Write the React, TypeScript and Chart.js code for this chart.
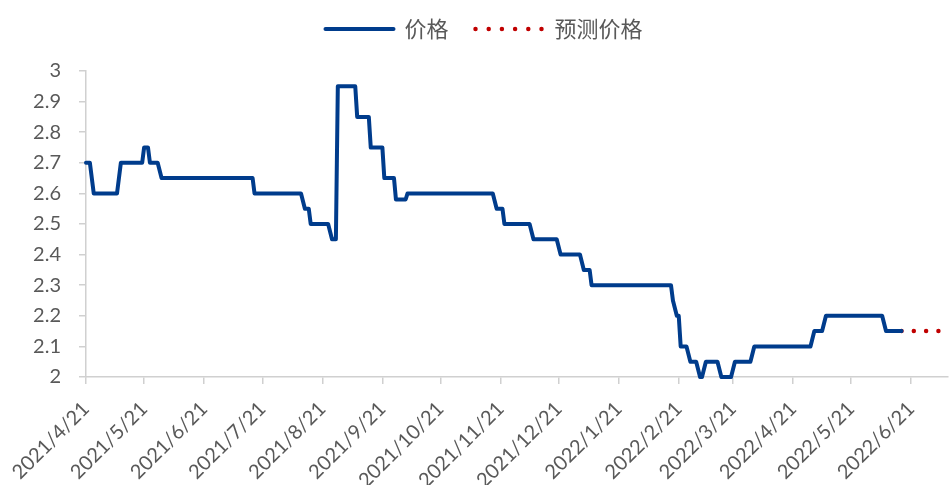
import React, { useEffect, useRef } from 'react';
import { Chart, registerables } from 'chart.js';

Chart.register(...registerables);

// ---- data ----
const PRICE_DATES = [
  '2021-04-21', '2021-04-23', '2021-04-25', '2021-05-07', '2021-05-09', '2021-05-20',
  '2021-05-21', '2021-05-23', '2021-05-24', '2021-05-28', '2021-05-30', '2021-07-16',
  '2021-07-17', '2021-08-10', '2021-08-12', '2021-08-14', '2021-08-15', '2021-08-24',
  '2021-08-26', '2021-08-28', '2021-08-29', '2021-09-07', '2021-09-08', '2021-09-14',
  '2021-09-15', '2021-09-21', '2021-09-22', '2021-09-27', '2021-09-28', '2021-10-03',
  '2021-10-04', '2021-11-17', '2021-11-19', '2021-11-22', '2021-11-23', '2021-12-06',
  '2021-12-08', '2021-12-20', '2021-12-22', '2022-01-01', '2022-01-03', '2022-01-06',
  '2022-01-07', '2022-02-17', '2022-02-18', '2022-02-20', '2022-02-21', '2022-02-22',
  '2022-02-25', '2022-02-27', '2022-03-02', '2022-03-04', '2022-03-05', '2022-03-07',
  '2022-03-13', '2022-03-15', '2022-03-20', '2022-03-22', '2022-03-30', '2022-04-01',
  '2022-04-30', '2022-05-02', '2022-05-06', '2022-05-08', '2022-06-06', '2022-06-08',
  '2022-06-16',
];
const PRICE_VALUES = [
  2.7, 2.7, 2.6, 2.6, 2.7, 2.7,
  2.75, 2.75, 2.7, 2.7, 2.65, 2.65,
  2.6, 2.6, 2.55, 2.55, 2.5, 2.5,
  2.45, 2.45, 2.95, 2.95, 2.85, 2.85,
  2.75, 2.75, 2.65, 2.65, 2.58, 2.58,
  2.6, 2.6, 2.55, 2.55, 2.5, 2.5,
  2.45, 2.45, 2.4, 2.4, 2.35, 2.35,
  2.3, 2.3, 2.25, 2.2, 2.2, 2.1,
  2.1, 2.05, 2.05, 2.0, 2.0, 2.05,
  2.05, 2.0, 2.0, 2.05, 2.05, 2.1,
  2.1, 2.15, 2.15, 2.2, 2.2, 2.15,
  2.15,
];
const FORECAST_DATES = ['2022-06-16', '2022-07-10'];
const FORECAST_VALUES = [2.15, 2.15];

const TICK_LABELS = [
  '2021/4/21', '2021/5/21', '2021/6/21', '2021/7/21', '2021/8/21', '2021/9/21',
  '2021/10/21', '2021/11/21', '2021/12/21', '2022/1/21', '2022/2/21', '2022/3/21',
  '2022/4/21', '2022/5/21', '2022/6/21',
];
const SERIES_NAMES = ['价格', '预测价格'];
const X_START = '2021-04-21';
const X_END = '2022-07-10';
const Y_MIN = 2;
const Y_MAX = 3;
const Y_STEP = 0.1;

// ---- styling ----
const BLUE = '#003c8c';
const RED = '#c00000';
const AXIS = '#d0d0d0';
const TEXT = '#595959';
const LAYOUT_TOP = -9;
const PLOT_TOP = 71;

function toUTC(s: string) {
  const [y, m, d] = s.split(/[-/]/).map(Number);
  return Date.UTC(y, m - 1, d);
}
const START = toUTC(X_START);
function dayOf(s: string) {
  return Math.round((toUTC(s) - START) / 86400000);
}

const legendHeightPlugin = {
  id: 'legendHeight',
  beforeLayout(chart: any) {
    const lg = chart.legend;
    if (lg && !lg.__patched) {
      const orig = lg.fit.bind(lg);
      lg.fit = function () {
        orig();
        this.height = PLOT_TOP - LAYOUT_TOP;
      };
      lg.__patched = true;
    }
  },
};

export default function App() {
  const ref = useRef<HTMLCanvasElement | null>(null);

  useEffect(() => {
    if (!ref.current) return;
    const tickDays = TICK_LABELS.map(dayOf);
    const labelByDay: Record<number, string> = {};
    tickDays.forEach((d, i) => (labelByDay[d] = TICK_LABELS[i]));

    const chart = new Chart(ref.current, {
      type: 'line',
      plugins: [legendHeightPlugin],
      data: {
        datasets: [
          {
            label: SERIES_NAMES[0],
            data: PRICE_DATES.map((d, i) => ({ x: dayOf(d), y: PRICE_VALUES[i] })),
            borderColor: BLUE,
            backgroundColor: BLUE,
            borderWidth: 4,
            pointRadius: 0,
            tension: 0,
            borderJoinStyle: 'round',
            borderCapStyle: 'round',
            clip: false,
          },
          {
            label: SERIES_NAMES[1],
            data: FORECAST_DATES.map((d, i) => ({ x: dayOf(d), y: FORECAST_VALUES[i] })),
            borderColor: RED,
            backgroundColor: RED,
            borderWidth: 4.5,
            borderDash: [0, 12.3],
            borderCapStyle: 'round',
            pointRadius: 0,
            tension: 0,
            clip: false,
          },
        ],
      },
      options: {
        animation: false,
        responsive: true,
        maintainAspectRatio: false,
        layout: { padding: { top: LAYOUT_TOP, right: 2, left: 20, bottom: 0 } },
        plugins: {
          tooltip: { enabled: false },
          legend: {
            position: 'top',
            labels: {
              usePointStyle: true,
              pointStyleWidth: 68,
              padding: 27,
              color: TEXT,
              font: { family: '"Noto Sans CJK SC", sans-serif', size: 22 },
              generateLabels: (c: any) =>
                c.data.datasets.map((ds: any, i: number) => ({
                  text: ds.label,
                  fillStyle: ds.borderColor,
                  strokeStyle: ds.borderColor,
                  lineWidth: i === 0 ? 4 : 4.5,
                  lineDash: i === 0 ? [] : [0, 13.2],
                  lineCap: 'round',
                  pointStyle: 'line',
                  hidden: false,
                  datasetIndex: i,
                  fontColor: TEXT,
                })),
            },
          },
        },
        scales: {
          x: {
            type: 'linear',
            min: 0,
            max: dayOf(X_END),
            afterBuildTicks: (s: any) => {
              s.ticks = tickDays.map((v) => ({ value: v }));
            },
            afterFit: (s: any) => {
              s.height = 108;
              s.paddingLeft = 0;
              s.paddingRight = 0;
            },
            ticks: {
              autoSkip: false,
              minRotation: 45,
              maxRotation: 45,
              padding: 13,
              color: TEXT,
              font: { family: 'Lato', size: 20 },
              callback: (v: any) => labelByDay[v] ?? '',
            },
            grid: { drawOnChartArea: false, drawTicks: true, tickLength: 7, color: AXIS, lineWidth: 1.5 },
            border: { color: AXIS, width: 1.5 },
          },
          y: {
            min: Y_MIN,
            max: Y_MAX,
            afterFit: (s: any) => {
              s.width = 66;
              s.paddingTop = 0;
              s.paddingBottom = 0;
            },
            ticks: {
              stepSize: Y_STEP,
              padding: 18,
              color: TEXT,
              font: { family: 'Lato', size: 20 },
              callback: (v: any) => String(Math.round(Number(v) * 10) / 10),
            },
            grid: { drawOnChartArea: false, drawTicks: true, tickLength: 7, color: AXIS, lineWidth: 1.5 },
            border: { color: AXIS, width: 1.5 },
          },
        },
      },
    } as any);
    return () => chart.destroy();
  }, []);

  return (
    <div style={{ position: 'absolute', left: 0, top: 0, width: 950, height: 485, background: '#fff' }}>
      <canvas ref={ref} />
    </div>
  );
}
